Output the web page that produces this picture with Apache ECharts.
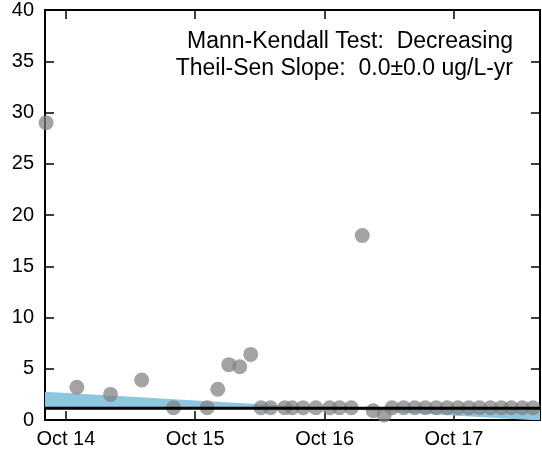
<!DOCTYPE html>
<html><head><meta charset="utf-8">
<script src="https://cdn.jsdelivr.net/npm/echarts@6/dist/echarts.min.js"></script>
<style>html,body{margin:0;padding:0;background:#fff}#c{width:542px;height:453px}</style>
</head><body><div id="c"></div>
<script>
// ---- data ----
const sampleDates = ['2014-08-06','2014-11-01','2015-02-04','2015-05-03','2015-08-01','2015-11-04','2015-12-04','2016-01-04','2016-02-04','2016-03-06','2016-04-04','2016-05-01','2016-06-10','2016-07-01','2016-08-01','2016-09-06','2016-10-15','2016-11-12','2016-12-15','2017-01-15','2017-02-15','2017-03-18','2017-04-09','2017-05-12','2017-06-12','2017-07-12','2017-08-12','2017-09-12','2017-10-12','2017-11-12','2017-12-12','2018-01-12','2018-02-12','2018-03-12','2018-04-12','2018-05-12'];
const sampleValues = [29.0,3.2,2.5,3.9,1.2,1.2,3.0,5.4,5.2,6.4,1.2,1.2,1.2,1.2,1.2,1.2,1.2,1.2,1.2,18.0,0.9,0.5,1.2,1.2,1.2,1.2,1.2,1.2,1.2,1.2,1.2,1.2,1.2,1.2,1.2,1.2];
const lineDates = ['2014-08-03','2018-06-01'];
const trendValues = [1.15,1.15];
const bandEdgeValues = [2.76,-0.05];
const xRange = ['2014-08-03','2018-06-01'];
const tickDates = ['2014-10-01','2015-10-01','2016-10-01','2017-10-01'];
const yRange = [0,40];
const yStep = 5;
const annotationLines = ['Mann-Kendall Test:  Decreasing','Theil-Sen Slope:  0.0\u00b10.0 ug/L-yr'];

// ---- build ----
const ts = d => Date.parse(d + 'T00:00:00Z');
const MONTHS = ['Jan','Feb','Mar','Apr','May','Jun','Jul','Aug','Sep','Oct','Nov','Dec'];
const fmtDate = v => { const d = new Date(v); return MONTHS[d.getUTCMonth()] + ' ' + String(d.getUTCFullYear()).slice(2); };
const ticks = tickDates.map(ts);
const FONT = 'Liberation Sans';
const black = '#000';

const xBase = {
  type: 'value', min: ts(xRange[0]), max: ts(xRange[1]),
  axisLine: {show: true, onZero: false, lineStyle: {color: black, width: 2}},
  axisTick: {show: true, inside: true, length: 9, lineStyle: {color: black, width: 1.5}, customValues: ticks},
  splitLine: {show: false}
};
const yBase = {
  type: 'value', min: yRange[0], max: yRange[1], interval: yStep,
  axisLine: {show: true, onZero: false, lineStyle: {color: black, width: 2}},
  axisTick: {show: true, inside: true, length: 9, lineStyle: {color: black, width: 1.5}},
  splitLine: {show: false}
};

const chart = echarts.init(document.getElementById('c'), null, {renderer: 'canvas'});
chart.setOption({
  animation: false,
  backgroundColor: '#fff',
  grid: {left: 45, right: 2, top: 10, bottom: 33, containLabel: false},
  xAxis: [
    Object.assign({}, xBase, {position: 'bottom',
      axisLabel: {customValues: ticks, formatter: fmtDate, fontSize: 20, color: black, fontFamily: FONT, margin: 9}}),
    Object.assign({}, xBase, {position: 'top', axisLabel: {show: false}})
  ],
  yAxis: [
    Object.assign({}, yBase, {position: 'left',
      axisLabel: {fontSize: 20, color: black, fontFamily: FONT, margin: 11}}),
    Object.assign({}, yBase, {position: 'right', axisLabel: {show: false}})
  ],
  series: [
    {
      type: 'line', xAxisIndex: 0, yAxisIndex: 0, z: 1,
      data: lineDates.map((d, i) => [ts(d), bandEdgeValues[i]]),
      showSymbol: false, symbol: 'none',
      lineStyle: {width: 0, opacity: 0},
      areaStyle: {color: '#8cc6df', opacity: 1, origin: trendValues[0]},
      silent: true
    },
    {
      type: 'scatter', xAxisIndex: 0, yAxisIndex: 0, z: 2,
      data: sampleDates.map((d, i) => [ts(d), sampleValues[i]]),
      symbol: 'circle', symbolSize: 15,
      itemStyle: {color: '#808080', opacity: 0.72}
    },
    {
      type: 'line', xAxisIndex: 0, yAxisIndex: 0, z: 3,
      data: lineDates.map((d, i) => [ts(d), trendValues[i]]),
      showSymbol: false, symbol: 'none',
      lineStyle: {color: black, width: 3}
    }
  ],
  graphic: annotationLines.map((t, i) => ({
    type: 'text', z: 10,
    style: {text: t, x: 513, y: 42 + i * 27, textAlign: 'right', textVerticalAlign: 'middle',
      font: '23px "' + FONT + '"', fill: black}
  }))
});
</script>
</body></html>
